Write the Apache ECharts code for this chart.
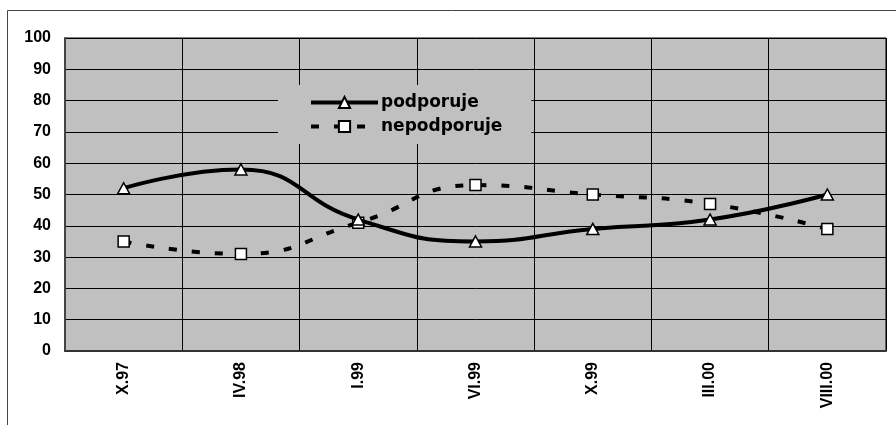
<!DOCTYPE html>
<html><head><meta charset="utf-8">
<script src="https://cdn.jsdelivr.net/npm/echarts@6/dist/echarts.min.js"></script>
<style>html,body{margin:0;padding:0;background:#fff}#c{width:896px;height:425px}</style>
</head><body><div id="c"></div>
<script>
var categories = ['X.97','IV.98','I.99','VI.99','X.99','III.00','VIII.00'];
var podporuje = [52, 58, 42, 35, 39, 42, 50];
var nepodporuje = [35, 31, 41, 53, 50, 47, 39];
var yTicks = {min: 0, max: 100, interval: 10};

var chart = echarts.init(document.getElementById('c'), null, {renderer: 'canvas'});
var font = "'Liberation Sans', Arial, sans-serif";
chart.setOption({
  animation: false,
  backgroundColor: '#fff',
  graphic: [{
    type: 'rect', left: 5, top: 8, shape: {x: 0, y: 0, width: 900, height: 430},
    style: {fill: 'none', stroke: '#444', lineWidth: 1}, z: -10
  }],
  grid: {left: 65, top: 38, right: 10, bottom: 74, show: true, backgroundColor: '#c0c0c0', borderColor: '#000', borderWidth: 1},
  legend: {
    orient: 'vertical', left: 278, top: 85,
    padding: [9, 29, 9, 31], itemGap: 7,
    backgroundColor: '#c0c0c0',
    itemWidth: 67, itemHeight: 14,
    lineStyle: {width: 4},
    textStyle: {fontFamily: "'DejaVu Sans', sans-serif", fontWeight: 'bold', fontSize: 17, color: '#000', padding: [0,0,0,-2]},
    data: ['podporuje', 'nepodporuje']
  },
  xAxis: {
    type: 'category', data: categories, boundaryGap: true,
    axisLine: {lineStyle: {color: '#333', width: 2}},
    axisTick: {show: false},
    splitLine: {show: true, lineStyle: {color: '#000', width: 1}},
    axisLabel: {rotate: 90, margin: 11, fontFamily: font, fontWeight: 'bold', fontSize: 16, color: '#000', interval: 0}
  },
  yAxis: {
    type: 'value', min: yTicks.min, max: yTicks.max, interval: yTicks.interval,
    axisLine: {show: true, lineStyle: {color: '#444', width: 2}},
    axisTick: {show: false},
    splitLine: {lineStyle: {color: '#000', width: 1}},
    axisLabel: {margin: 14, fontFamily: font, fontWeight: 'bold', fontSize: 16, color: '#000'}
  },
  series: [{
    name: 'podporuje', type: 'line', data: podporuje, smooth: 0.5,
    symbol: 'triangle', symbolSize: [12, 11],
    lineStyle: {color: '#000', width: 4},
    itemStyle: {color: '#fff', borderColor: '#000', borderWidth: 1.5},
    z: 3
  }, {
    name: 'nepodporuje', type: 'line', data: nepodporuje, smooth: 0.5,
    symbol: 'rect', symbolSize: 11,
    lineStyle: {color: '#000', width: 4, type: [8, 15]},
    itemStyle: {color: '#fff', borderColor: '#000', borderWidth: 1.5},
    z: 2
  }]
});
</script></body></html>
